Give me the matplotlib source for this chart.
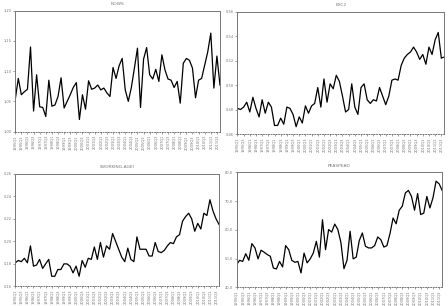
import matplotlib
matplotlib.use("Agg")
import matplotlib.pyplot as plt

# quarterly dates, 1995Q1 - 2011Q4
quarters = [f"{y}Q{q}" for y in range(1995, 2012) for q in range(1, 5)]

nows = [1.053, 1.088, 1.061, 1.066, 1.070, 1.140, 1.034, 1.094, 1.041, 1.040,
        1.025, 1.085, 1.042, 1.044, 1.058, 1.089, 1.039, 1.050, 1.061, 1.073,
        1.081, 1.020, 1.061, 1.037, 1.084, 1.070, 1.072, 1.077, 1.069, 1.072,
        1.064, 1.058, 1.106, 1.088, 1.109, 1.121, 1.069, 1.050, 1.073, 1.105,
        1.138, 1.040, 1.120, 1.139, 1.094, 1.087, 1.103, 1.083, 1.127, 1.102,
        1.087, 1.085, 1.073, 1.083, 1.047, 1.113, 1.121, 1.118, 1.105, 1.056,
        1.085, 1.088, 1.110, 1.132, 1.163, 1.072, 1.125, 1.077]

exc2 = [0.481, 0.480, 0.482, 0.486, 0.478, 0.490, 0.481, 0.474, 0.488, 0.477,
        0.486, 0.482, 0.467, 0.467, 0.473, 0.468, 0.482, 0.481, 0.476, 0.466,
        0.474, 0.469, 0.483, 0.477, 0.483, 0.485, 0.498, 0.482, 0.505, 0.486,
        0.501, 0.497, 0.508, 0.503, 0.491, 0.478, 0.480, 0.501, 0.482, 0.476,
        0.498, 0.501, 0.488, 0.485, 0.488, 0.487, 0.498, 0.491, 0.484, 0.491,
        0.504, 0.505, 0.504, 0.516, 0.522, 0.525, 0.527, 0.531, 0.527, 0.521,
        0.525, 0.517, 0.531, 0.525, 0.537, 0.543, 0.522, 0.523]

working_age = [0.181, 0.183, 0.182, 0.185, 0.181, 0.196, 0.178, 0.179, 0.184, 0.176,
               0.180, 0.184, 0.169, 0.169, 0.175, 0.175, 0.180, 0.180, 0.178, 0.172,
               0.178, 0.169, 0.183, 0.177, 0.185, 0.184, 0.195, 0.184, 0.199, 0.186,
               0.196, 0.193, 0.207, 0.200, 0.193, 0.186, 0.182, 0.194, 0.184, 0.182,
               0.204, 0.193, 0.193, 0.193, 0.187, 0.187, 0.199, 0.191, 0.190, 0.192,
               0.196, 0.199, 0.198, 0.204, 0.206, 0.218, 0.222, 0.225, 0.220, 0.209,
               0.216, 0.211, 0.225, 0.223, 0.237, 0.227, 0.220, 0.215]

peaspead = [47.9, 49.4, 49.0, 51.7, 49.4, 55.2, 53.7, 49.9, 52.9, 52.2,
            51.4, 50.8, 46.7, 46.4, 49.0, 47.1, 54.5, 53.1, 49.4, 48.7,
            49.0, 45.0, 51.9, 48.5, 49.9, 51.9, 56.0, 50.5, 63.5, 53.1,
            60.1, 59.2, 62.0, 60.1, 55.6, 46.5, 49.4, 59.5, 49.9, 50.5,
            56.3, 58.9, 54.3, 53.7, 53.7, 54.5, 57.5, 56.6, 54.0, 54.5,
            58.7, 64.1, 62.1, 66.8, 68.2, 72.8, 73.7, 71.6, 66.8, 72.6,
            65.3, 65.8, 71.6, 67.6, 71.1, 76.9, 76.0, 73.7]

panels = [
    ("NOWS", nows, [1.00, 1.05, 1.10, 1.15, 1.20], "{:.2f}", [0.034, 0.570, 0.457, 0.395]),
    ("EXC2", exc2, [0.46, 0.48, 0.50, 0.52, 0.54, 0.56], "{:.2f}", [0.530, 0.562, 0.462, 0.400]),
    ("(WORKING-AGE)", working_age, [0.16, 0.18, 0.20, 0.22, 0.24, 0.26], "{:.2f}", [0.034, 0.064, 0.455, 0.368]),
    ("PEASPEAD", peaspead, [40, 50, 60, 70, 80], "{:.1f}", [0.528, 0.061, 0.459, 0.376]),
]

fig = plt.figure(figsize=(4.48, 3.06), dpi=100)
grey = "#777777"
x = list(range(len(quarters)))

for title, vals, yt, fmt, rect in panels:
    ax = fig.add_axes(rect)
    ax.plot(x, vals, color="black", lw=0.9)
    ax.set_xlim(0, len(quarters) - 1)
    ax.set_ylim(yt[0], yt[-1])
    ax.set_yticks(yt)
    ax.set_yticklabels([fmt.format(v).replace(".", ",") for v in yt])
    ax.set_xticks(x[::2])
    ax.set_xticklabels(quarters[::2], rotation=90)
    ax.tick_params(labelsize=2.6, colors=grey, length=1.5, width=0.5, pad=1)
    for s in ax.spines.values():
        s.set_color(grey)
        s.set_linewidth(0.7)
    ax.spines["bottom"].set_linestyle(":")
    ax.set_title(title, fontsize=3.2, color=grey, pad=4)

fig.savefig("out.png", dpi=100)
